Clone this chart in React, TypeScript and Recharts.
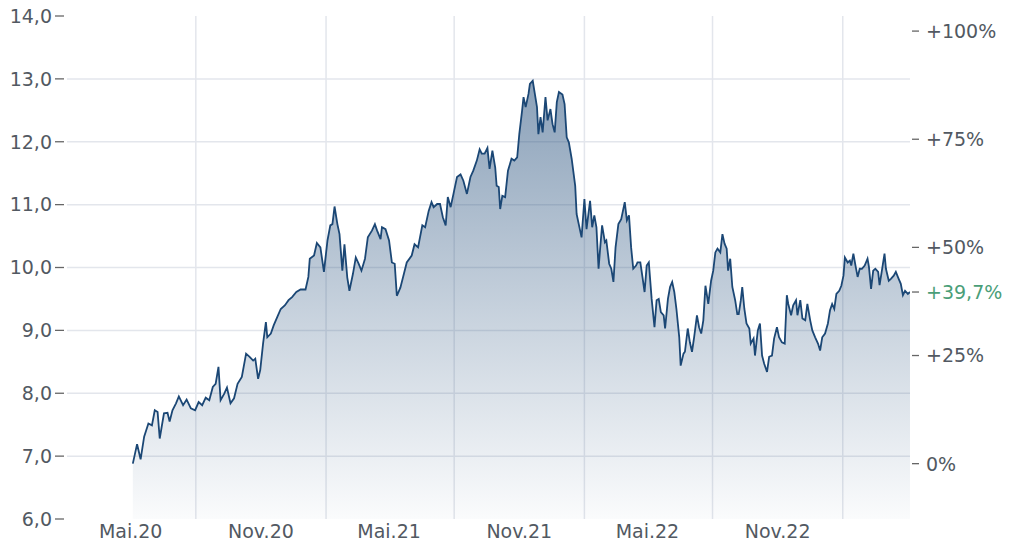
import React from 'react';
import { ComposedChart, Area, XAxis, YAxis, CartesianGrid } from 'recharts';

// [days since 2020-05-01, price]
const points2020: [number, number][] = [
  [3, 6.88], [9, 7.19], [14, 6.95], [19, 7.31], [25, 7.52], [30, 7.49], [34, 7.73], [38, 7.7], [41, 7.28], [47, 7.68],
  [52, 7.69], [55, 7.55], [59, 7.73], [64, 7.84], [68, 7.95], [74, 7.81], [79, 7.9], [85, 7.76], [91, 7.73], [96, 7.86],
  [101, 7.81], [106, 7.93], [111, 7.89], [116, 8.1], [120, 8.15], [124, 8.42], [127, 7.89], [132, 7.99], [136, 8.09], [141, 7.84],
  [146, 7.92], [151, 8.15], [157, 8.26], [163, 8.63], [168, 8.58], [173, 8.52], [176, 8.55], [180, 8.23], [183, 8.37], [187, 8.79],
  [191, 9.13], [193, 8.89], [198, 8.95], [202, 9.08], [207, 9.21], [212, 9.34], [218, 9.4], [223, 9.48], [228, 9.53], [234, 9.61],
  [240, 9.65],
];
const points2021: [number, number][] = [
  [247, 9.65], [251, 9.85], [253, 10.14], [259, 10.19], [263, 10.39], [268, 10.32], [273, 9.93], [278, 10.43], [282, 10.67], [285, 10.69],
  [288, 10.97], [292, 10.69], [295, 10.53], [299, 9.95], [302, 10.37], [306, 9.84], [309, 9.63], [314, 9.9], [318, 10.16], [322, 10.06],
  [326, 9.95], [331, 10.14], [335, 10.48], [341, 10.59], [345, 10.69], [348, 10.59], [353, 10.45], [355, 10.64], [360, 10.61], [365, 10.43],
  [369, 10.08], [373, 10.06], [376, 9.55], [381, 9.68], [386, 9.9], [390, 10.08], [397, 10.19], [401, 10.37], [406, 10.32], [412, 10.67],
  [416, 10.64], [421, 10.9], [425, 11.04], [428, 10.96], [433, 11.01], [437, 11.01], [441, 10.8], [445, 10.67], [448, 11.12], [452, 10.96],
  [456, 11.17], [461, 11.44], [466, 11.48], [470, 11.38], [475, 11.17], [480, 11.44], [484, 11.54], [489, 11.7], [493, 11.88], [496, 11.81],
  [500, 11.81], [504, 11.9], [507, 11.57], [511, 11.86], [515, 11.59], [517, 11.3], [520, 11.28], [522, 10.93], [525, 11.14], [529, 11.12],
  [533, 11.54], [538, 11.73], [542, 11.7], [546, 11.75], [549, 12.12], [553, 12.5], [555, 12.71], [558, 12.55], [562, 12.76], [564, 12.92],
  [568, 12.97], [571, 12.76], [574, 12.55], [576, 12.12], [579, 12.39], [582, 12.15], [586, 12.71], [589, 12.34], [593, 12.52], [596, 12.28],
  [599, 12.15], [602, 12.63], [605, 12.79],
];
const points2022: [number, number][] = [
  [610, 12.75], [613, 12.6], [616, 12.07], [619, 11.99], [623, 11.73], [628, 11.3], [630, 10.85], [633, 10.69], [637, 10.48], [641, 11.09],
  [644, 10.61], [649, 11.06], [652, 10.64], [655, 10.83], [658, 10.64], [661, 9.98], [663, 10.27], [666, 10.67], [670, 10.4], [672, 10.43],
  [676, 10.06], [679, 9.98], [682, 9.77], [685, 10.32], [689, 10.69], [693, 10.77], [698, 11.04], [701, 10.75], [704, 10.83], [707, 10.32],
  [710, 9.98], [714, 10.03], [716, 10.08], [720, 10.08], [723, 9.85], [726, 9.61], [729, 10.03], [732, 10.08], [736, 9.5], [740, 9.05],
  [743, 9.48], [746, 9.5], [749, 9.29], [753, 9.24], [755, 9.03], [759, 9.5], [762, 9.69], [765, 9.77], [768, 9.61], [771, 9.34],
  [775, 8.89], [777, 8.44], [781, 8.63], [783, 8.66], [787, 9.03], [790, 8.81], [793, 8.66], [796, 8.89], [800, 9.24], [803, 9.05],
  [806, 8.95], [809, 9.16], [812, 9.71], [816, 9.42], [820, 9.79], [823, 9.95], [826, 10.24], [829, 10.3], [833, 10.24], [836, 10.53],
  [839, 10.38], [842, 10.3], [844, 9.95], [847, 10.14], [850, 9.69], [854, 9.48], [857, 9.26], [859, 9.26], [862, 9.48], [864, 9.69],
  [867, 9.34], [870, 9.11], [874, 9.03], [876, 8.79], [880, 8.87], [882, 8.6], [886, 9.0], [889, 9.11], [892, 8.6], [895, 8.47],
  [899, 8.34], [902, 8.58], [906, 8.6], [909, 8.87], [913, 9.05], [916, 8.89], [920, 8.81], [924, 8.79], [927, 9.56], [929, 9.42],
  [933, 9.24], [936, 9.4], [940, 9.48], [942, 9.24], [946, 9.48], [949, 9.19], [953, 9.16], [956, 9.42], [960, 9.16], [963, 9.0],
  [967, 8.89], [971, 8.79], [974, 8.68],
];
const points2023: [number, number][] = [
  [977, 8.89], [981, 8.95], [985, 9.11], [988, 9.32], [991, 9.42], [994, 9.34], [997, 9.58], [1001, 9.63], [1004, 9.71], [1007, 9.87],
  [1009, 10.16], [1013, 10.08], [1016, 10.11], [1018, 10.03], [1021, 10.22], [1024, 10.03], [1027, 9.85], [1030, 9.98], [1033, 9.98], [1037, 10.03],
  [1041, 10.14], [1043, 10.01], [1046, 9.66], [1049, 9.95], [1052, 9.98], [1056, 9.93], [1058, 9.72], [1061, 9.93], [1065, 10.22], [1067, 9.98],
  [1071, 9.79], [1074, 9.82], [1078, 9.87], [1081, 9.93], [1085, 9.82], [1088, 9.74], [1091, 9.56], [1094, 9.63], [1098, 9.58], [1101, 9.61],
];

const priceTicks = [6, 7, 8, 9, 10, 11, 12, 13, 14];
const gridPrices = [7, 8, 9, 10, 11, 12, 13];
const pctTicks = [0, 25, 50, 75, 100];
const labelDates = ['2020-05-01', '2020-11-01', '2021-05-01', '2021-11-01', '2022-05-01', '2022-11-01'];
const gridDates = ['2020-08-01', '2021-02-01', '2021-08-01', '2022-02-01', '2022-08-01', '2023-02-01'];
const axisStartDate = '2020-02-01';
const monthNames = ['Jan', 'Feb', 'Mär', 'Apr', 'Mai', 'Jun', 'Jul', 'Aug', 'Sep', 'Okt', 'Nov', 'Dez'];

const FONT = '"DejaVu Sans", Verdana, sans-serif';
const FS = 19;
const TEXT = '#525962';
const GREEN = '#4a9e78';
const GRID = '#e3e6ec';

const dayOf = (iso: string) => {
  const [y, m, d] = iso.split('-').map(Number);
  return (Date.UTC(y, m - 1, d) - Date.UTC(2020, 4, 1)) / 86400000;
};
const dateLabel = (iso: string) => {
  const [y, m] = iso.split('-').map(Number);
  return `${monthNames[m - 1]}.${String(y).slice(2)}`;
};

const data = [...points2020, ...points2021, ...points2022, ...points2023].map(([day, price]) => ({ day, price }));
const basePrice = data[0].price;
const lastPrice = data[data.length - 1].price;
const lastPct = (lastPrice / basePrice - 1) * 100;
const priceMin = priceTicks[0];
const priceMax = priceTicks[priceTicks.length - 1];
const pctDomain = [(priceMin / basePrice - 1) * 100, (priceMax / basePrice - 1) * 100];
const labelTicks = labelDates.map(dayOf);
const gridDays = gridDates.map(dayOf);
const labelMap: Record<number, string> = {};
labelDates.forEach((d) => { labelMap[dayOf(d)] = dateLabel(d); });
const xDomain = [dayOf(axisStartDate), data[data.length - 1].day];

const fmtNum = (v: number, digits: number) => v.toFixed(digits).replace('.', ',');

const LeftTick = (props: any) => {
  const { x, y, payload } = props;
  return (
    <g>
      <text x={x - 15} y={y} dy="0.36em" textAnchor="end" fontSize={FS} fill={TEXT} fontFamily={FONT}>
        {fmtNum(payload.value, 1)}
      </text>
      <line x1={x - 12} x2={x - 3} y1={y} y2={y} stroke="#666" strokeWidth={1.3} />
    </g>
  );
};

const RightTick = (props: any) => {
  const { x, y, payload } = props;
  const v = payload.value as number;
  const isLast = Math.abs(v - lastPct) < 1e-6;
  const label = isLast ? `+${fmtNum(v, 1)}%` : v === 0 ? '0%' : `+${Math.round(v)}%`;
  return (
    <g>
      <line x1={x + 2} x2={x + 9} y1={y} y2={y} stroke="#666" strokeWidth={1.3} />
      <text x={x + 16} y={y} dy="0.36em" textAnchor="start" fontSize={FS} fill={isLast ? GREEN : TEXT} fontFamily={FONT}>
        {label}
      </text>
    </g>
  );
};

const BottomTick = (props: any) => {
  const { x, y, payload } = props;
  return (
    <text x={x} y={y + 19} textAnchor="middle" fontSize={FS} fill={TEXT} fontFamily={FONT}>
      {labelMap[payload.value]}
    </text>
  );
};

export default function App() {
  return (
    <div style={{ position: 'absolute', left: 0, top: 0, width: 1024, height: 554, background: '#fff' }}>
      <ComposedChart width={1024} height={554} data={data} margin={{ top: 16, right: 0, bottom: 0, left: 0 }}>
        <defs>
          <linearGradient id="fillGrad" x1="0" y1="0" x2="0" y2="1">
            <stop offset="0%" stopColor="#1f4a78" stopOpacity={0.52} />
            <stop offset="55%" stopColor="#1f4a78" stopOpacity={0.24} />
            <stop offset="100%" stopColor="#1f4a78" stopOpacity={0.02} />
          </linearGradient>
        </defs>
        <CartesianGrid
          yAxisId="left"
          stroke={GRID}
          strokeWidth={1.5}
          horizontalValues={gridPrices}
          verticalValues={gridDays}
        />
        <XAxis
          dataKey="day"
          type="number"
          domain={xDomain}
          allowDataOverflow
          ticks={labelTicks}
          interval={0}
          height={35}
          axisLine={false}
          tickLine={false}
          tickSize={0}
          tickMargin={0}
          tick={<BottomTick />}
        />
        <YAxis
          yAxisId="left"
          orientation="left"
          type="number"
          domain={[priceMin, priceMax]}
          ticks={priceTicks}
          interval={0}
          width={67}
          axisLine={false}
          tickLine={false}
          tickSize={0}
          tickMargin={0}
          tick={<LeftTick />}
        />
        <YAxis
          yAxisId="right"
          orientation="right"
          type="number"
          domain={pctDomain}
          allowDataOverflow
          ticks={[...pctTicks, lastPct]}
          interval={0}
          width={114}
          axisLine={false}
          tickLine={false}
          tickSize={0}
          tickMargin={0}
          tick={<RightTick />}
        />
        <Area
          yAxisId="left"
          type="linear"
          dataKey="price"
          stroke="#1b4775"
          strokeWidth={1.8}
          fill="url(#fillGrad)"
          fillOpacity={1}
          dot={false}
          activeDot={false}
          isAnimationActive={false}
        />
      </ComposedChart>
    </div>
  );
}
